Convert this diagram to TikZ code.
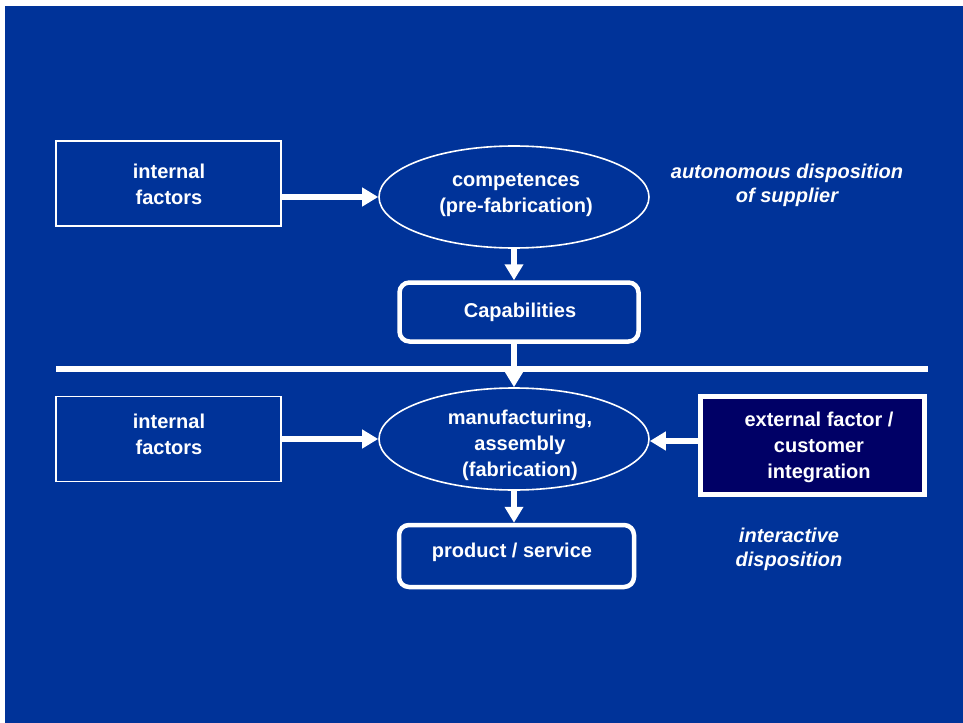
\documentclass[tikz,border=0pt]{standalone}
\usepackage{fontspec}
\setmainfont{Liberation Sans}
\usetikzlibrary{shapes.geometric,arrows.meta}
\definecolor{bgblue}{RGB}{0,51,153}
\definecolor{navy}{RGB}{0,0,102}
\begin{document}
\begin{tikzpicture}[x=1bp,y=-1bp,
  every node/.style={text=white,font=\fontsize{20bp}{26bp}\selectfont\bfseries,align=center,inner sep=0pt},
  ibox/.style={draw=white,line width=1.6bp,minimum width=225bp,minimum height=85bp},
  ell/.style={ellipse,draw=white,line width=1.6bp,minimum width=270bp,minimum height=102bp},
  rbox/.style={draw=white,line width=4.5bp,rounded corners=10bp},
  arr/.style={white,line width=6bp,-{Triangle[length=16bp,width=18bp]}},
  note/.style={font=\fontsize{20bp}{24bp}\selectfont\bfseries\itshape}
]
\useasboundingbox (0,0) rectangle (963,723);
\fill[white] (0,0) rectangle (963,723);
\fill[bgblue] (5,6) rectangle (963,723);

% upper part
\node[ibox] (if1) at (168.5,183.5) {};
\node (if1t) at (169,184) {internal\\factors};
\node[ell] (e1) at (514,197) {};
\node (e1t) at (516,195) {competences\\(pre-fabrication)};
\node[rbox,minimum width=239bp,minimum height=59bp] (cap) at (519,312) {};
\node (capt) at (520,312) {Capabilities};
\node[note] (auto) at (787,185) {autonomous disposition\\of supplier};

\draw[arr] (if1.east |- e1.west) -- (e1.west);
\draw[arr] (e1.south) -- (e1.south |- cap.north);

% separator
\coordinate (sepL) at (56,369);
\coordinate (sepR) at (928,369);
\draw[white,line width=6bp] (sepL) -- (sepR);

% lower part
\node[ibox] (if2) at (168.5,439) {};
\node (if2t) at (169,434) {internal\\factors};
\node[ell] (e2) at (514,439) {};
\node (e2t) at (520,445) {manufacturing,\\assembly\\(fabrication)};
\node[draw=white,fill=navy,line width=4.5bp,minimum width=224bp,minimum height=98bp] (ext) at (812.5,445.5) {};
\node (extt) at (819,447) {external factor /\\customer\\integration};
\node[rbox,minimum width=235bp,minimum height=62bp] (prod) at (516.5,556) {};
\node (prodt) at (512,552) {product / service};
\node[note] (inter) at (789,549) {interactive\\disposition};

\draw[arr] (e1.south |- cap.south) -- (e2.north);
\draw[arr] (if2.east |- e2.west) -- (e2.west);
\draw[arr] (ext.west |- 0,441) -- (e2.east |- 0,441);
\draw[arr] (e2.south) -- (e2.south |- prod.north);
\end{tikzpicture}
\end{document}
